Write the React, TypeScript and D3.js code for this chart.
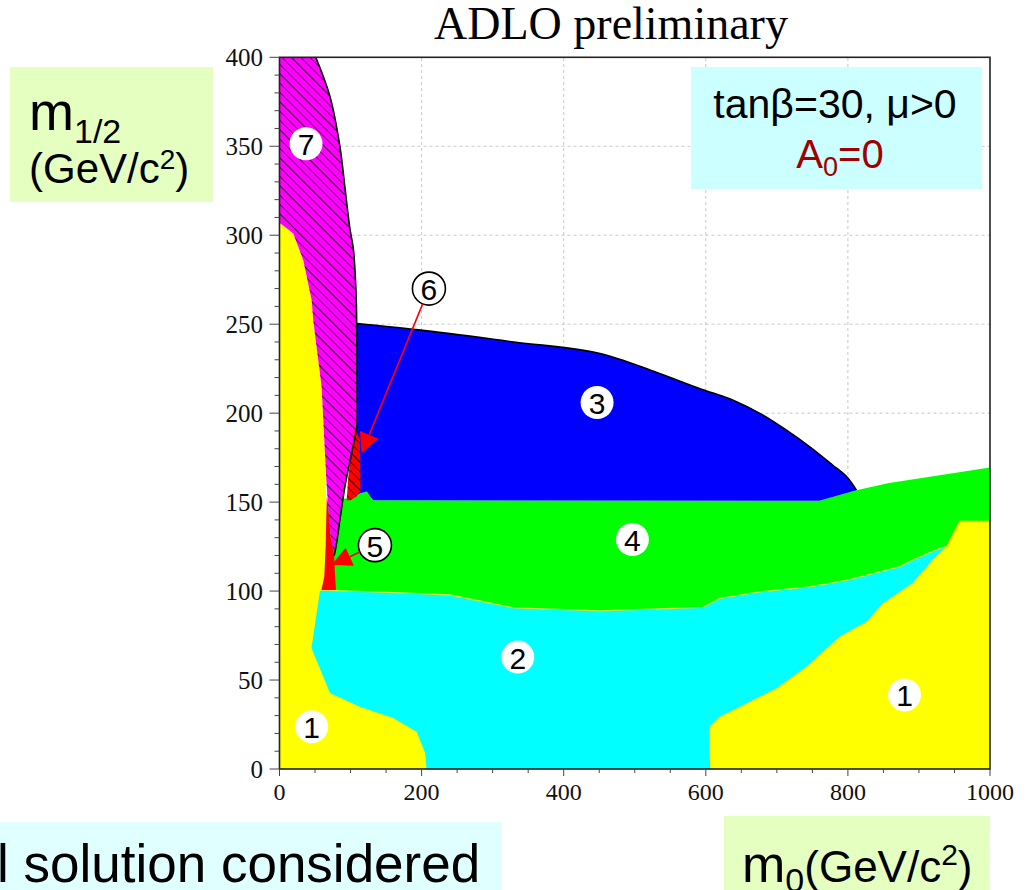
import React from 'react';
import * as d3 from 'd3';

// axes
const xTickLabels = [0, 200, 400, 600, 800, 1000];
const yTickLabels = [0, 50, 100, 150, 200, 250, 300, 350, 400];
const xMinor = d3.range(0, 1001, 50);
const yMinor = d3.range(0, 401, 10);
const xGrid = [200, 400, 600, 800];
const yGrid = [50, 100, 150, 200, 250, 300, 350];

type P = [number, number];

// regions, (m0, m1/2)
const greenRegion: P[] = [[60, 100], [64, 130], [68, 150], [90, 152], [100, 152], [114, 155], [123, 156], [128, 153], [132, 151],
  [760, 150.7], [812, 156.7], [858, 160.8], [1000, 169.5], [1000, 0], [60, 0]];
const cyanTop: P[] = [[57, 100.6], [100, 100], [170, 99], [240, 97.8], [287, 94], [329, 90.6], [451, 88.9], [596, 90.8],
  [620, 95.9], [676, 99.6], [746, 102.4], [798, 106], [873, 113.7], [891, 117.4], [929, 124], [938.5, 125]];
const cyanBottom: P[] = [[1000, 125], [1000, 0], [0, 0], [0, 100.6]];
const yellowLeft: P[] = [[0, 307], [0.7, 306.9], [19.4, 300.9], [33.5, 286], [45.3, 263.5], [47.5, 252.2], [59.3, 214.8],
  [64, 177.4], [66.4, 139.9], [64, 102.4], [57, 100.2], [45, 68], [71, 42.7], [113, 35], [160, 28.7], [193, 21],
  [205, 9], [207, 0], [0, 0]];
const yellowRight: P[] = [[957, 139.5], [1000, 139.5], [1000, 0], [606.5, 0], [604.5, 12.5], [605.5, 23.8], [619.6, 29.4],
  [648, 35], [699, 45.3], [741.5, 57.5], [788, 74.3], [826, 82.8], [849, 93], [891, 104.5], [919, 117.4], [938.5, 125]];
const blueTop: P[] = [[109.3, 250.4], [196, 246.8], [330, 240], [448, 233.8], [530, 223], [590, 214], [640, 207], [680, 199],
  [715, 190], [745, 181.5], [778, 171], [799, 164], [812, 156.7]];
const blueBottom: P[] = [[760, 150.7], [132, 151], [128, 153], [123, 156], [114, 155], [100, 152], [100, 250.6]];
const magentaEdge: P[] = [[51, 400], [71, 378], [85, 350], [92, 327], [99, 304], [104, 292], [107.5, 270], [108.6, 252],
  [109, 215], [108.6, 192], [101.5, 177.5], [92, 158.6], [85, 140], [80, 126], [77, 120]];
const magentaLeft: P[] = [[72, 130.5], [68, 150], [66, 162], [64, 177.4], [59.3, 214.8], [47.5, 252.2], [45.3, 263.5],
  [33.5, 286], [19.4, 300.9], [0.7, 306.9], [0, 307], [0, 400]];
const red5: P[] = [[59, 100.6], [79.5, 100.6], [78, 110], [77, 120], [72, 130.5], [68, 150], [66.5, 153], [65.8, 140],
  [65, 125], [63, 108]];
const red6: P[] = [[106.2, 191.4], [110, 188], [113.2, 184.8], [114.2, 156.7], [108, 153], [100, 151], [94.5, 151],
  [97, 165], [101.5, 177.5], [104, 186]];

const labels = [
  { t: '7', x: 37.3, y: 351.4, ring: false },
  { t: '6', x: 210.3, y: 270, ring: true },
  { t: '3', x: 447, y: 206, ring: false },
  { t: '4', x: 496.7, y: 129, ring: false },
  { t: '5', x: 134.3, y: 125.8, ring: true },
  { t: '2', x: 335.4, y: 62.9, ring: false },
  { t: '1', x: 45.3, y: 23.8, ring: false },
  { t: '1', x: 879.7, y: 41.6, ring: false },
];
const arrows = [
  { from: [210.3, 270], to: [115.6, 177.4] },
  { from: [134.3, 125.8], to: [73.4, 114.6] },
];

const W = 1032, H = 890;
const sans = '"Liberation Sans", Arial, sans-serif';
const serif = '"Liberation Serif", "Times New Roman", serif';

export default function App() {
  const x = d3.scaleLinear().domain([0, 1000]).range([279.5, 990]);
  const y = d3.scaleLinear().domain([0, 400]).range([769, 57.3]);
  const poly = d3.line<P>().x(d => x(d[0])).y(d => y(d[1])).curve(d3.curveLinearClosed);
  const path = d3.line<P>().x(d => x(d[0])).y(d => y(d[1]));
  const smooth = d3.line<P>().x(d => x(d[0])).y(d => y(d[1])).curve(d3.curveCatmullRom);
  // smooth edge followed by straight segments, closed
  const mixed = (curved: P[], rest: P[]) =>
    smooth(curved)! + rest.map(p => `L${x(p[0])},${y(p[1])}`).join('') + 'Z';
  const R = 16.5;

  const arrowEls = arrows.map((a, i) => {
    const sx = x(a.from[0]), sy = y(a.from[1]), tx = x(a.to[0]), ty = y(a.to[1]);
    const len = Math.hypot(tx - sx, ty - sy);
    const ux = (tx - sx) / len, uy = (ty - sy) / len;
    const bx = tx - ux * 20, by = ty - uy * 20;
    const head = `M${tx},${ty}L${bx - uy * 10},${by + ux * 10}L${bx + uy * 10},${by - ux * 10}Z`;
    return (
      <g key={i}>
        <line x1={sx + ux * R} y1={sy + uy * R} x2={bx} y2={by} stroke="#ff0000" strokeWidth={1.6} />
        <path d={head} fill="#ff0000" />
      </g>
    );
  });

  const magentaPath = mixed(magentaEdge, magentaLeft);

  return (
    <div style={{ position: 'absolute', left: 0, top: 0 }}>
      <svg width={W} height={H} style={{ display: 'block' }}>
        <defs>
          <pattern id="hatch" patternUnits="userSpaceOnUse" width={6.6} height={6.6} patternTransform="rotate(-45)">
            <line x1={0} y1={0} x2={0} y2={6.6} stroke="#000" strokeWidth={1.3} />
          </pattern>
        </defs>
        <rect width={W} height={H} fill="#fff" />

        {/* grid */}
        <g stroke="#c8c8c8" strokeDasharray="3,3" strokeWidth={1}>
          {xGrid.map(v => <line key={'gx' + v} x1={x(v)} x2={x(v)} y1={y(0)} y2={y(400)} />)}
          {yGrid.map(v => <line key={'gy' + v} x1={x(0)} x2={x(1000)} y1={y(v)} y2={y(v)} />)}
        </g>

        {/* regions */}
        <path d={poly(greenRegion)!} fill="#00ff00" />
        <path d={poly([...cyanTop, ...cyanBottom])!} fill="#00ffff" />
        <path d={path(cyanTop)!} fill="none" stroke="#c8f040" strokeWidth={1.3} />
        <path d={poly(yellowLeft)!} fill="#ffff00" />
        <path d={poly(yellowRight)!} fill="#ffff00" />
        <path d={mixed(blueTop, blueBottom)} fill="#0000ff" />
        <path d={smooth(blueTop)!} fill="none" stroke="#000" strokeWidth={1.6} />
        <path d={poly(red5)!} fill="#ff0000" />
        <path d={magentaPath} fill="#ff00ff" />
        <path d={magentaPath} fill="url(#hatch)" />
        <path d={poly(red6)!} fill="#ff0000" />
        <path d={poly(red6)!} fill="url(#hatch)" />
        <path d={smooth(magentaEdge)!} fill="none" stroke="#000" strokeWidth={1.6} />

        {/* frame and ticks */}
        <rect x={x(0)} y={y(400)} width={x(1000) - x(0)} height={y(0) - y(400)} fill="none" stroke="#222" strokeWidth={1.6} />
        <g stroke="#444" strokeWidth={1}>
          {yMinor.map(v => <line key={'ym' + v} x1={x(0)} x2={x(0) - (v % 50 === 0 ? 10 : 5)} y1={y(v)} y2={y(v)} />)}
          {xMinor.map(v => <line key={'xm' + v} y1={y(0)} y2={y(0) + (v % 200 === 0 ? 7 : 4)} x1={x(v)} x2={x(v)} />)}
        </g>
        <g fontFamily={serif} fontSize={25} fill="#111">
          {yTickLabels.map(v => (
            <text key={'yl' + v} x={263} y={y(v)} textAnchor="end" dominantBaseline="central">{v}</text>
          ))}
        </g>
        <g fontFamily={serif} fontSize={24} fill="#111">
          {xTickLabels.map(v => (
            <text key={'xl' + v} x={x(v)} y={800} textAnchor="middle">{v}</text>
          ))}
        </g>

        {/* region numbers */}
        {labels.map((l, i) => (
          <g key={'lab' + i}>
            <circle cx={x(l.x)} cy={y(l.y)} r={R} fill="#fff" stroke={l.ring ? '#000' : 'none'} strokeWidth={1.6} />
            <text x={x(l.x)} y={y(l.y) + 1} textAnchor="middle" dominantBaseline="central" fontFamily={sans} fontSize={30} fill="#000">{l.t}</text>
          </g>
        ))}
        {arrowEls}

        {/* title */}
        <text x={611} y={39} textAnchor="middle" fontFamily={serif} fontSize={46} fill="#000">ADLO preliminary</text>

        {/* legend box */}
        <rect x={691} y={67} width={291} height={122} fill="#ccffff" />
        <text x={835} y={118} textAnchor="middle" fontFamily={sans} fontSize={41} fill="#000">tanβ=30, μ&gt;0</text>
        <text x={840} y={168} textAnchor="middle" fontFamily={sans} fontSize={40} fill="#a00000">
          A<tspan fontSize={27} dy={8}>0</tspan><tspan dy={-8}>=0</tspan>
        </text>

        {/* y label */}
        <rect x={10} y={67} width={203} height={135} fill="#e5ffc0" />
        <text x={29} y={130} fontFamily={sans} fontSize={54} fill="#000">
          m<tspan fontSize={34} dy={13}>1/2</tspan>
        </text>
        <text x={29} y={183} fontFamily={sans} fontSize={42} fill="#000">
          (GeV/c<tspan fontSize={28} dy={-14}>2</tspan><tspan dy={14}>)</tspan>
        </text>

        {/* bottom texts */}
        <rect x={0} y={822} width={502} height={68} fill="#e0ffff" />
        <text x={-3} y={882} fontFamily={sans} fontSize={53} fill="#000">l solution considered</text>
        <rect x={724} y={816} width={266} height={74} fill="#e5ffc0" />
        <text x={742} y={882} fontFamily={sans} fontSize={52} fill="#000">
          m<tspan fontSize={34} dy={10}>0</tspan><tspan fontSize={44} dy={-10}>(GeV/c</tspan><tspan fontSize={30} dy={-17}>2</tspan><tspan fontSize={44} dy={17}>)</tspan>
        </text>
      </svg>
    </div>
  );
}
